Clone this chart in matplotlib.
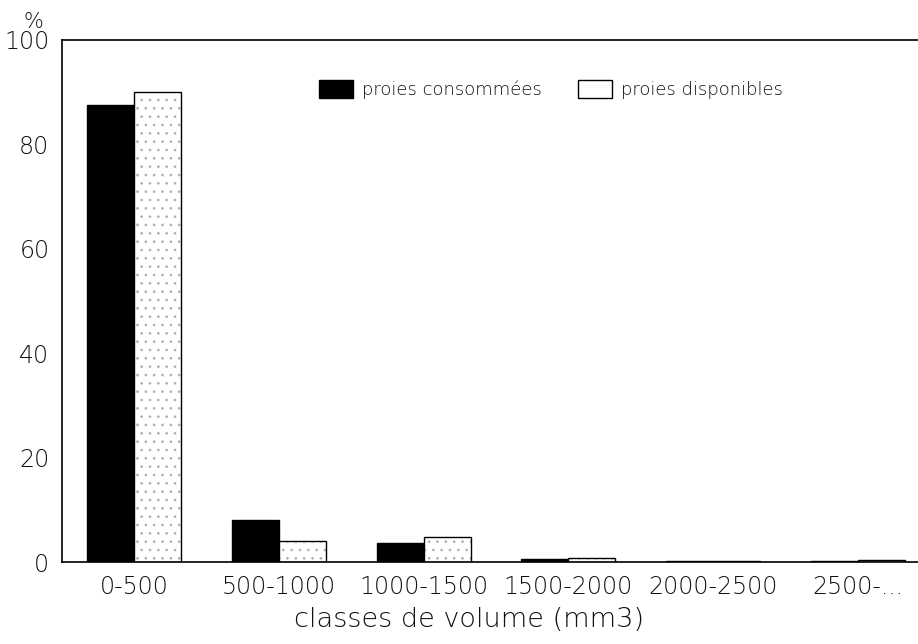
import matplotlib
matplotlib.use("Agg")
import matplotlib.pyplot as plt
import numpy as np

classes = ["0-500", "500-1000", "1000-1500", "1500-2000", "2000-2500", "2500-..."]
consommees = [87.5, 8.0, 3.6, 0.5, 0.1, 0.2]
disponibles = [90.0, 4.0, 4.8, 0.7, 0.1, 0.3]
yticks = [0, 20, 40, 60, 80, 100]

plt.rcParams['font.family'] = ['DejaVu Sans']
plt.rcParams['font.weight'] = 'light'
plt.rcParams['hatch.linewidth'] = 0.7

txt = '#111111'
fig = plt.figure(figsize=(9.18, 6.44), dpi=100)
ax = fig.add_axes([0.0675, 0.1273, 0.9455, 0.8106])

x = np.arange(len(classes))
w = 0.325
ax.bar(x - w / 2, consommees, w, color='black', edgecolor='black', lw=1,
       label='proies consommées')
# dotted fill in grey, then black outline on top
ax.bar(x + w / 2, disponibles, w, color='white', edgecolor='#b0b0b0', lw=0,
       hatch='..')
ax.bar(x + w / 2, disponibles, w, color='none', edgecolor='black', lw=1,
       label='proies disponibles')

ax.set_xlim(-0.5, 5.5)
ax.set_ylim(0, 100)
ax.set_xticks(x)
ax.set_xticklabels(classes, fontsize=17, color=txt, fontweight='light')
ax.set_yticks(yticks)
ax.set_yticklabels([str(v) for v in yticks], fontsize=17, color=txt, fontweight='light')
ax.tick_params(length=0, pad=9)
ax.tick_params(axis='y', pad=9)
ax.spines['right'].set_visible(False)
for s in ['left', 'top', 'bottom']:
    ax.spines[s].set_linewidth(1.2)

ax.set_xlabel('classes de volume (mm3)', fontsize=19.5, color=txt, labelpad=6,
              fontweight='light')
ax.xaxis.label.set_x(0.469)
fig.text(0.036, 0.966, '%', fontsize=15, color=txt, ha='center', va='center',
         fontweight='light')

leg = ax.legend(loc='upper left', bbox_to_anchor=(0.277, 0.955), ncol=2, frameon=False,
                handlelength=1.9, handleheight=1.2, columnspacing=2.0,
                handletextpad=0.5, prop={'size': 13, 'weight': 'light'})
for t in leg.get_texts():
    t.set_color(txt)

fig.savefig('out.png', dpi=100)
